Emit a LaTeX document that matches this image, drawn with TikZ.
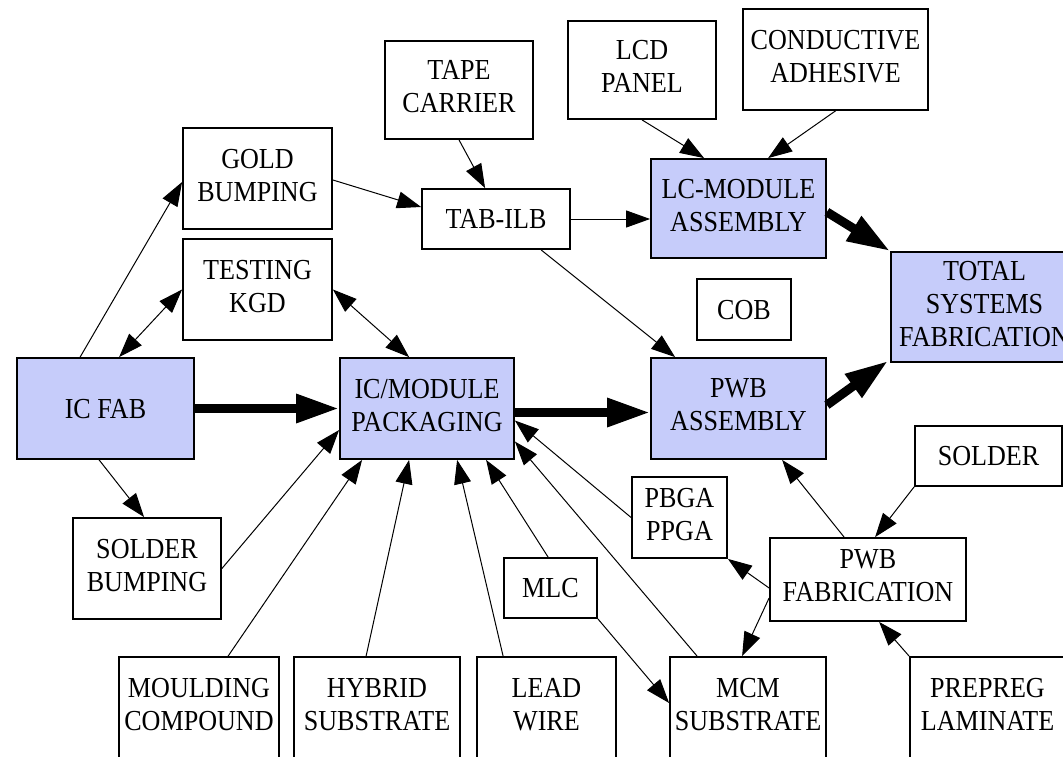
\documentclass[tikz,border=0pt]{standalone}
\usepackage{fontspec}
\setmainfont[FakeStretch=0.9]{Liberation Serif}
\usetikzlibrary{arrows.meta,calc}
\definecolor{procfill}{RGB}{198,204,250}
\tikzset{
  box/.style={draw, line width=1.8pt, inner sep=0pt, align=center,
    text depth=7pt, font=\fontsize{29}{33}\selectfont},
  oneline/.style={text depth=0pt},
  proc/.style={box, fill=procfill},
  flow/.style={line width=1pt, -{Triangle[length=24pt,width=17pt]}},
  both/.style={line width=1pt, {Triangle[length=24pt,width=17pt]}-{Triangle[length=24pt,width=17pt]}},
  main/.style={line width=9pt, -{Triangle[length=43pt,width=27pt]}},
}
\begin{document}
\begin{tikzpicture}[x=1pt,y=-1pt]
\fill[white] (0,0) rectangle (1063,757);
\clip (0,0) rectangle (1063,757);

% material and step boxes
\node[box, minimum width=148pt, minimum height=98pt]  (tape)    at (459,90)      {TAPE\\CARRIER};
\node[box, minimum width=149pt, minimum height=101pt] (gold)    at (257.5,178.5) {GOLD\\BUMPING};
\node[box, oneline, minimum width=148pt, minimum height=60pt]  (tabilb)  at (496,219)     {TAB-ILB};
\node[box, minimum width=149pt, minimum height=101pt] (testing) at (257.5,289.5) {TESTING\\KGD};
\node[box, minimum width=148pt, minimum height=98pt]  (lcd)     at (642,70)      {LCD\\PANEL};
\node[box, minimum width=185pt, minimum height=101pt] (cond)    at (835.5,59.5)  {CONDUCTIVE\\ADHESIVE};
\node[box, oneline, minimum width=94pt,  minimum height=61pt]  (cob)     at (744,309.5)   {COB};
\node[box, minimum width=148pt, minimum height=101pt] (solderb) at (147,568.5)   {SOLDER\\BUMPING};
\node[box, oneline, minimum width=93pt,  minimum height=60pt]  (mlc)     at (550.5,588)   {MLC};
\node[box, minimum width=95pt,  minimum height=81pt]  (pbga)    at (679.5,517.5) {PBGA\\PPGA};
\node[box, oneline, minimum width=147pt, minimum height=60pt]  (solder)  at (988.5,456)   {SOLDER};
\node[box, minimum width=196pt, minimum height=83pt]  (pwbfab)  at (868,579.5)   {PWB\\FABRICATION};
\node[box, minimum width=160pt, minimum height=101pt] (mould)   at (199,707.5)   {MOULDING\\COMPOUND};
\node[box, minimum width=166pt, minimum height=101pt] (hybrid)  at (377,707.5)   {HYBRID\\SUBSTRATE};
\node[box, minimum width=139pt, minimum height=101pt] (lead)    at (546.5,707.5) {LEAD\\WIRE};
\node[box, minimum width=156pt, minimum height=101pt] (mcm)     at (748,707.5)   {MCM\\SUBSTRATE};
\node[box, minimum width=155pt, minimum height=101pt] (prepreg) at (987.5,707.5) {PREPREG\\LAMINATE};

% main process boxes
\node[proc, oneline, minimum width=177pt, minimum height=101pt] (icfab)  at (105.5,408.5) {IC FAB};
\node[proc, minimum width=174pt, minimum height=101pt] (icmod)  at (427,408.5)   {IC/MODULE\\PACKAGING};
\node[proc, minimum width=175pt, minimum height=99pt]  (lcmod)  at (738.5,208.5) {LC-MODULE\\ASSEMBLY};
\node[proc, minimum width=175pt, minimum height=101pt] (pwbasm) at (738.5,408.5) {PWB\\ASSEMBLY};
\node[proc, minimum width=187pt, minimum height=110pt] (total)  at (984.5,307)   {TOTAL\\SYSTEMS\\FABRICATION};

% main flow
\draw[main] (icfab.east) -- (icmod.west);
\draw[main] ($(icmod.east)+(0,4)$) -- ($(pwbasm.west)+(0,4)$);
\draw[main] ($(lcmod.east)+(0,3.5)$) -- (total.north west);
\draw[main] ($(pwbasm.east)+(0,-3.5)$) -- ($(total.south west)+(-2,-2)$);

% feeds
\draw[flow] ($(icfab.north west)+(64,0)$) -- ($(gold.west)+(0,3.5)$);
\draw[both] (testing.west) -- ($(icfab.north west)+(103,0)$);
\draw[both] (testing.east) -- ($(icmod.north west)+(70,0)$);
\draw[flow] ($(gold.east)+(0,1.5)$) -- ($(tabilb.west)+(0,-12)$);
\draw[flow] (tape.south) -- ($(tabilb.north west)+(64,0)$);
\draw[flow] (tabilb.east) -- (tabilb.east -| lcmod.west);
\draw[flow] (lcd.south) -- ($(lcmod.north west)+(54,0)$);
\draw[flow] (cond.south) -- ($(lcmod.north west)+(118,0)$);
\draw[flow] ($(tabilb.south west)+(120,0)$) -- ($(pwbasm.north west)+(25,0)$);
\draw[flow] ($(icfab.south west)+(83,0)$) -- ($(solderb.north west)+(72,0)$);
\draw[flow] (solderb.east) -- ($(icmod.west)+(0,21.5)$);
\draw[flow] ($(mould.north west)+(110,0)$) -- ($(icmod.south west)+(23,0)$);
\draw[flow] ($(hybrid.north west)+(73,0)$) -- ($(icmod.south west)+(70,0)$);
\draw[flow] ($(lead.north west)+(27,0)$) -- ($(icmod.south west)+(118,0)$);
\draw[flow] ($(mlc.north west)+(45,0)$) -- ($(icmod.south west)+(147,0)$);
\draw[flow] ($(mcm.north west)+(28,0)$) -- ($(icmod.east)+(0,33)$);
\draw[flow] (pbga.west) -- ($(icmod.east)+(0,12)$);
\draw[flow] (mlc.south east) -- ($(mcm.west)+(0,-4.5)$);
\draw[flow] ($(pwbfab.west)+(0,8.5)$) -- (pbga.south east);
\draw[flow] ($(pwbfab.west)+(0,18.5)$) -- ($(mcm.north west)+(73,0)$);
\draw[flow] ($(pwbfab.north west)+(75,0)$) -- ($(pwbasm.south west)+(132,0)$);
\draw[flow] (solder.south west) -- ($(pwbfab.north west)+(106,0)$);
\draw[flow] (prepreg.north west) -- ($(pwbfab.south west)+(110,0)$);
\end{tikzpicture}
\end{document}
